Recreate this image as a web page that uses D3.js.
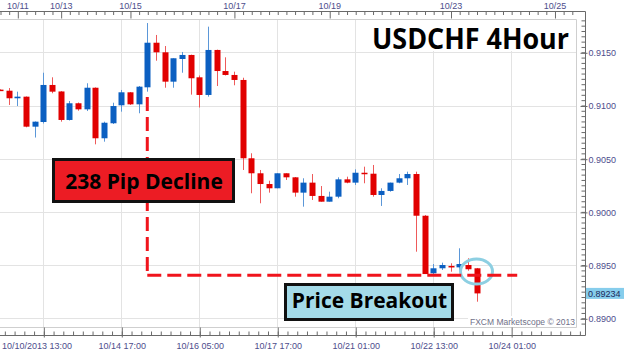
<!DOCTYPE html>
<html><head><meta charset="utf-8">
<script src="https://cdn.jsdelivr.net/npm/d3@7"></script>
<style>body{margin:0;background:#fff}svg{display:block}</style>
</head><body><svg id="c" width="624" height="353"></svg>
<script>
// ---- data (4-hour bars, in order) ----
const opens  = [0.91149,0.91139,0.91068,0.91083,0.90801,0.90845,0.91193,0.91132,0.90864,0.91021,0.90964,0.91167,0.90692,0.90833,0.91002,0.91124,0.91011,0.91171,0.91590,0.91500,0.91224,0.91437,0.91475,0.91265,0.91099,0.91522,0.91324,0.91287,0.91240,0.90504,0.90363,0.90262,0.90222,0.90363,0.90325,0.90181,0.90275,0.90150,0.90096,0.90143,0.90306,0.90275,0.90368,0.90359,0.90159,0.90197,0.90275,0.90316,0.90356,0.89964,0.89423,0.89470,0.89492,0.89479,0.89501,0.89470];
const highs  = [0.91152,0.91164,0.91130,0.91085,0.90850,0.91308,0.91265,0.91135,0.91042,0.91028,0.91209,0.91170,0.90848,0.91026,0.91146,0.91127,0.91183,0.91775,0.91663,0.91559,0.91444,0.91503,0.91478,0.91282,0.91741,0.91525,0.91453,0.91318,0.91261,0.90551,0.90394,0.90293,0.90363,0.90363,0.90328,0.90316,0.90356,0.90243,0.90190,0.90325,0.90331,0.90400,0.90425,0.90441,0.90222,0.90275,0.90356,0.90378,0.90378,0.89970,0.89510,0.89523,0.89517,0.89658,0.89564,0.89473];
const lows   = [0.91136,0.91005,0.90995,0.90795,0.90699,0.90831,0.91115,0.90848,0.90859,0.90951,0.90948,0.90635,0.90660,0.90826,0.90942,0.91005,0.90927,0.91130,0.91421,0.91167,0.91167,0.91308,0.91102,0.90981,0.91083,0.91183,0.91282,0.91190,0.90394,0.90175,0.90081,0.90181,0.90222,0.90300,0.90143,0.90049,0.90112,0.90096,0.90096,0.90128,0.90269,0.90253,0.90269,0.90143,0.90056,0.90190,0.90269,0.90253,0.89626,0.89416,0.89416,0.89454,0.89438,0.89447,0.89447,0.89156];
const closes = [0.91139,0.91068,0.91083,0.90801,0.90848,0.91193,0.91130,0.90864,0.91021,0.90964,0.91167,0.90692,0.90838,0.90995,0.91124,0.91011,0.91177,0.91590,0.91500,0.91224,0.91444,0.91475,0.91256,0.91099,0.91522,0.91324,0.91287,0.91240,0.90504,0.90363,0.90262,0.90222,0.90363,0.90325,0.90181,0.90275,0.90150,0.90096,0.90143,0.90306,0.90275,0.90368,0.90359,0.90159,0.90197,0.90275,0.90316,0.90356,0.89964,0.89416,0.89470,0.89501,0.89479,0.89510,0.89461,0.89234];

const yTickValues = [0.8900,0.8950,0.9000,0.9050,0.9100,0.9150];
const topTickBars = [2,7,15,27,38,52,64];
const topTickLabels = ["10/11","10/13","10/15","10/17","10/19","10/23","10/25"];
const bottomTickBars = [5,14,23,32,41,50,59];
const bottomTickLabels = ["10/10/2013 13:00","10/14 17:00","10/16 05:00","10/17 17:00","10/21 01:00","10/22 13:00","10/24 01:00"];
const lastPrice = 0.89234;
const declineHigh = 0.91775;     // high of the rally bar
const declineStart = 0.91080;    // vertical dashed line starts below the bar
const breakoutLevel = 0.89405;
const declineBar = 17, breakoutEndBar = 59.7, circleBar = 55, circlePrice = 0.8944;
const titleText = "USDCHF 4Hour";
const declineText = "238 Pip Decline";
const breakoutText = "Price Breakout";
const creditText = "FXCM Marketscope \u00A9 2013";

// ---- layout ----
const W = 624, H = 353;
const plotL = 0, plotR = 577, plotT = 19, plotB = 327.5;
const axisTopY = 11, axisRightX = 585, axisBottomY = 335;
const svg = d3.select("#c");
const x = d3.scaleLinear().domain([0, 66.6]).range([plotL, plotR]);
const y = d3.scaleLinear().domain([0.8900, 0.9150]).range([318.3, 52.3]);
const bars = opens.map((o,i)=>({i, o, h:highs[i], l:lows[i], c:closes[i]}));
const labelFont = "'Liberation Sans', Arial, sans-serif";
const labelColor = "#4d4d8c";

svg.append("rect").attr("width",W).attr("height",H).attr("fill","#fff");

// gridlines
const grid = svg.append("g");
grid.selectAll("line.h").data(yTickValues).join("line")
  .attr("x1",plotL).attr("x2",plotR)
  .attr("y1",d=>Math.round(y(d))+0.5).attr("y2",d=>Math.round(y(d))+0.5)
  .attr("stroke","#e3e3e3");
grid.selectAll("line.v").data(bottomTickBars).join("line")
  .attr("x1",d=>Math.round(x(d))+0.5).attr("x2",d=>Math.round(x(d))+0.5)
  .attr("y1",plotT).attr("y2",plotB)
  .attr("stroke","#e3e3e3");

// plot border
svg.append("path").attr("d",`M${plotL},${plotT+0.5}H${plotR-0.5}V${plotB}H${plotL}`)
  .attr("fill","none").attr("stroke","#cfcfcf");

// title background
svg.append("rect").attr("x",364).attr("y",plotT+1).attr("width",plotR-364-1).attr("height",31).attr("fill","#fff");
// credit background
svg.append("rect").attr("x",468).attr("y",316).attr("width",plotR-468-1).attr("height",plotB-316-0.5).attr("fill","#fff");

// candles
const bw = 6;
const cg = svg.append("g");
cg.selectAll("line.w").data(bars).join("line")
  .attr("x1",d=>Math.round(x(d.i))+0.5).attr("x2",d=>Math.round(x(d.i))+0.5)
  .attr("y1",d=>y(d.h)).attr("y2",d=>y(d.l))
  .attr("stroke",d=>d.c>=d.o?"#5b97d8":"#ee5a5a").attr("stroke-width",1);
cg.selectAll("rect.b").data(bars).join("rect")
  .attr("x",d=>Math.round(x(d.i))+0.5-bw/2)
  .attr("width",bw)
  .attr("y",d=>y(Math.max(d.o,d.c)))
  .attr("height",d=>Math.max(1.5, Math.abs(y(d.o)-y(d.c))))
  .attr("fill",d=>d.c>=d.o?"#0b5fc1":"#e10000");

// circle around breakout bar
svg.append("ellipse").attr("cx",x(circleBar)).attr("cy",y(circlePrice))
  .attr("rx",16).attr("ry",12.5).attr("fill","none")
  .attr("stroke","#8dcfe2").attr("stroke-width",3);

// dashed lines
const dash = svg.append("g").attr("stroke","#f0141c").attr("stroke-width",3)
  .attr("stroke-dasharray","14,6").attr("fill","none");
dash.append("line").attr("x1",x(declineBar)).attr("x2",x(declineBar))
  .attr("y1",y(declineStart)).attr("y2",y(breakoutLevel));
dash.append("line").attr("x1",x(declineBar)).attr("x2",x(breakoutEndBar))
  .attr("y1",y(breakoutLevel)).attr("y2",y(breakoutLevel));

// annotation boxes
const boldFont = "'Open Sans', 'DejaVu Sans', sans-serif";
svg.append("rect").attr("x",53.5).attr("y",159.5).attr("width",180).attr("height",42)
  .attr("fill","#ec1c24").attr("stroke","#111").attr("stroke-width",3);
svg.append("text").attr("x",144).attr("y",189).attr("text-anchor","middle")
  .attr("font-family",boldFont).attr("font-weight",700).attr("font-size",21)
  .attr("fill","#000").text(declineText);
svg.append("rect").attr("x",285.5).attr("y",284.5).attr("width",167).attr("height",35)
  .attr("fill","#a4dbe9").attr("stroke","#111").attr("stroke-width",3);
svg.append("text").attr("x",369.5).attr("y",307.5).attr("text-anchor","middle")
  .attr("font-family",boldFont).attr("font-weight",700).attr("font-size",21)
  .attr("fill","#000").text(breakoutText);

// title
svg.append("text").attr("x",569).attr("y",49).attr("text-anchor","end")
  .attr("font-family",boldFont).attr("font-weight",700).attr("font-size",29)
  .attr("textLength",197).attr("lengthAdjust","spacingAndGlyphs")
  .attr("fill","#000").text(titleText);

// credit
svg.append("text").attr("x",575).attr("y",325).attr("text-anchor","end")
  .attr("font-family",labelFont).attr("font-size",8.5).attr("fill","#707088").text(creditText);

// ---- axes ----
const axisColor = "#6a6a6a";
function styleAxis(g){
  g.selectAll(".domain").remove();
  g.selectAll("line").attr("stroke",axisColor);
  g.selectAll("text").attr("fill",labelColor).attr("font-family",labelFont).attr("font-size",9);
}
// frame lines
svg.append("path").attr("d",`M0,${axisTopY+0.5}H${axisRightX+0.5}V${axisBottomY+0.5}H0`)
  .attr("fill","none").attr("stroke",axisColor);

// top axis
const allBars = d3.range(0,67);
const topMinor = allBars.filter(b=>!topTickBars.includes(b));
svg.append("g").attr("transform",`translate(0.5,${axisTopY+0.5})`)
  .call(d3.axisBottom(x).tickValues(topMinor).tickSize(3.5).tickSizeOuter(0).tickFormat(""))
  .call(styleAxis);
svg.append("g").attr("transform",`translate(0.5,${axisTopY+0.5})`)
  .call(d3.axisBottom(x).tickValues(topTickBars).tickSize(7).tickSizeOuter(0).tickFormat(""))
  .call(styleAxis);
svg.append("g").attr("transform",`translate(0,${axisTopY})`)
  .call(d3.axisTop(x).tickValues(topTickBars).tickSize(0).tickPadding(2)
    .tickFormat((d,i)=>topTickLabels[i]))
  .call(styleAxis);

// bottom axis
const bottomMinor = [];
bottomTickBars.forEach(b=>{ for(let k=-8;k<8;k++){ if(k!==0) bottomMinor.push(b + k*9/8); } });
const bm = Array.from(new Set(bottomMinor.map(v=>+v.toFixed(3)))).filter(v=>v>0 && x(v)<axisRightX);
svg.append("g").attr("transform",`translate(0.5,${axisBottomY+0.5})`)
  .call(d3.axisTop(x).tickValues(bm).tickSize(4).tickSizeOuter(0).tickFormat(""))
  .call(styleAxis);
svg.append("g").attr("transform",`translate(0.5,${axisBottomY+0.5})`)
  .call(d3.axisTop(x).tickValues(bottomTickBars).tickSize(8).tickSizeOuter(0).tickFormat(""))
  .call(styleAxis);
const bAx = svg.append("g").attr("transform",`translate(0.5,${axisBottomY+0.5})`)
  .call(d3.axisBottom(x).tickValues(bottomTickBars).tickSize(2).tickPadding(5)
    .tickFormat((d,i)=>bottomTickLabels[i]))
  .call(styleAxis);
bAx.selectAll("text").filter((d,i)=>i===0).attr("text-anchor","start").attr("x",-x(bottomTickBars[0])+1);

// right axis
const yMinor = d3.range(17791, 18365, 10).map(v=>v/20000).filter(v=>!yTickValues.some(t=>Math.abs(t-v)<1e-6));
svg.append("g").attr("transform",`translate(${axisRightX+0.5},0.5)`)
  .call(d3.axisLeft(y).tickValues(yMinor).tickSize(4).tickSizeOuter(0).tickFormat(""))
  .call(styleAxis);
svg.append("g").attr("transform",`translate(${axisRightX+0.5},0.5)`)
  .call(d3.axisLeft(y).tickValues(yTickValues).tickSize(5).tickSizeOuter(0).tickFormat(""))
  .call(styleAxis);
svg.append("g").attr("transform",`translate(${axisRightX+0.5},0.5)`)
  .call(d3.axisRight(y).tickValues(yTickValues).tickSize(2).tickPadding(1).tickFormat(d3.format(".4f")))
  .call(styleAxis);

// last price tag
const ly = y(lastPrice);
svg.append("rect").attr("x",axisRightX+1).attr("y",ly-5.5).attr("width",W-axisRightX-1).attr("height",11)
  .attr("fill","#86cdec");
svg.append("text").attr("x",axisRightX+3).attr("y",ly+3.3)
  .attr("font-family",labelFont).attr("font-size",9).attr("fill","#1c2a5a")
  .text(d3.format(".5f")(lastPrice));
</script></body></html>
